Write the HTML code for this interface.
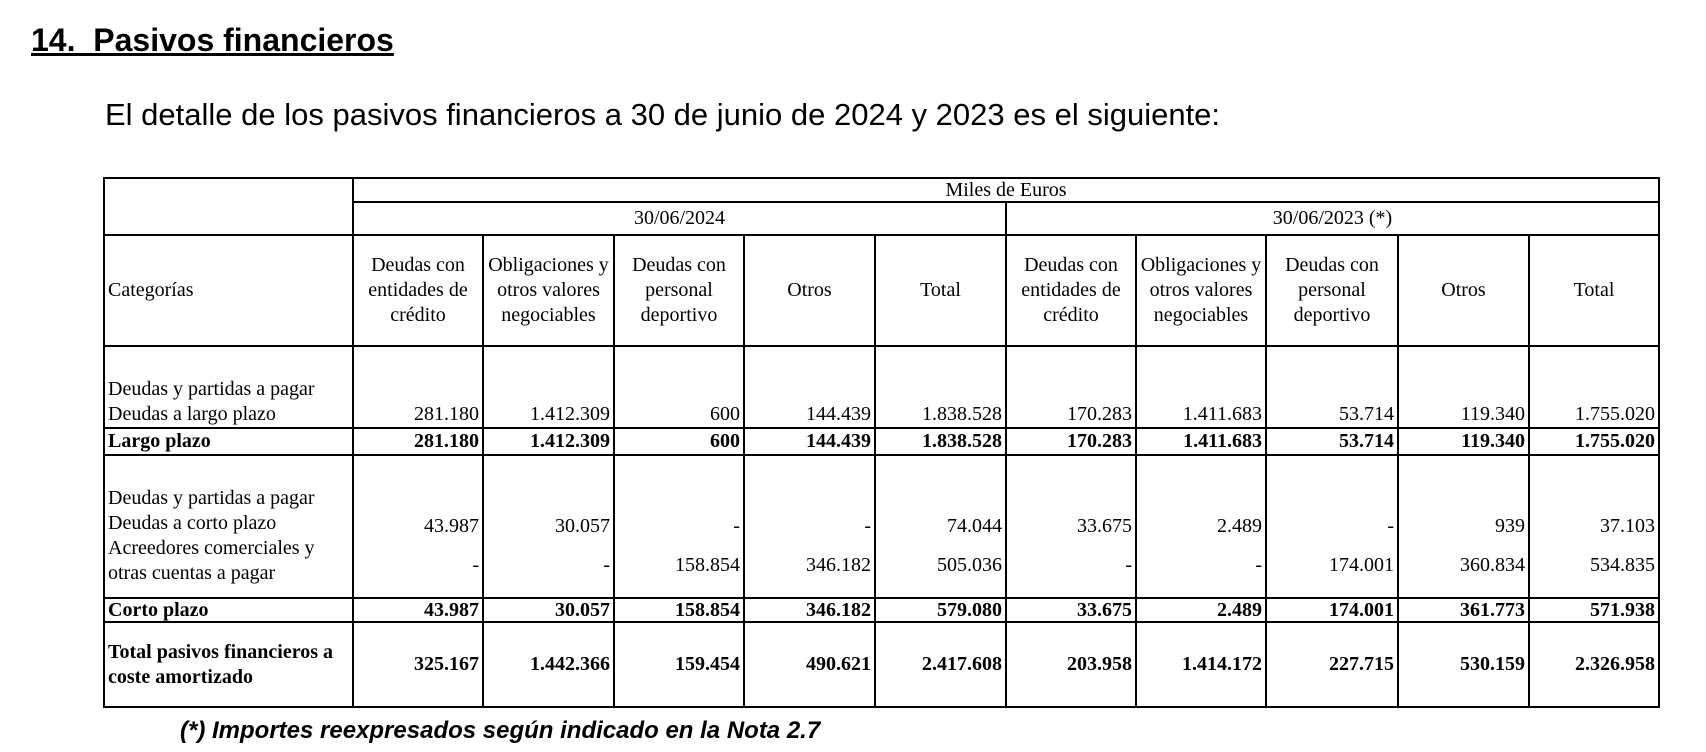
<!DOCTYPE html>
<html><head><meta charset="utf-8"><style>
body{margin:0;width:1706px;height:752px;background:#fff;position:relative;overflow:hidden;font-family:"Liberation Sans",sans-serif;color:#000}
.t{position:absolute;left:31px;top:21px;font-size:32px;line-height:38px;font-weight:bold;text-decoration:underline;white-space:pre}
.s{position:absolute;left:105px;top:96px;font-size:31px;line-height:37px}
.f{position:absolute;left:180px;top:716px;font-size:24px;line-height:29px;font-weight:bold;font-style:italic}
table{position:absolute;left:103px;top:177px;border-collapse:collapse;table-layout:fixed;font-family:"Liberation Serif",serif;font-size:20px}
td{border:2px solid #000;padding:0 3px;line-height:25px;white-space:nowrap;overflow:hidden}
.c{text-align:center}.r{text-align:right}.b{font-weight:bold}
.bot td{vertical-align:bottom;padding-bottom:0}
.top td{vertical-align:top}
.sl td{line-height:21px}
</style></head><body>
<div class="t">14.  Pasivos financieros</div>
<div class="s">El detalle de los pasivos financieros a 30 de junio de 2024 y 2023 es el siguiente:</div>
<table>
<colgroup><col style="width:249px"><col style="width:130px"><col style="width:131px"><col style="width:130px"><col style="width:131px"><col style="width:131px"><col style="width:130px"><col style="width:130px"><col style="width:132px"><col style="width:131px"><col style="width:130px"></colgroup>
<tr style="height:24px" class="sl"><td rowspan="2"></td><td colspan="10" class="c">Miles de Euros</td></tr>
<tr style="height:33px"><td colspan="5" class="c">30/06/2024</td><td colspan="5" class="c">30/06/2023 (*)</td></tr>
<tr style="height:111px"><td>Categorías</td>
<td class="c">Deudas con<br>entidades de<br>crédito</td><td class="c">Obligaciones y<br>otros valores<br>negociables</td><td class="c">Deudas con<br>personal<br>deportivo</td><td class="c">Otros</td><td class="c">Total</td>
<td class="c">Deudas con<br>entidades de<br>crédito</td><td class="c">Obligaciones y<br>otros valores<br>negociables</td><td class="c">Deudas con<br>personal<br>deportivo</td><td class="c">Otros</td><td class="c">Total</td></tr>
<tr style="height:82px" class="bot"><td>Deudas y partidas a pagar<br>Deudas a largo plazo</td>
<td class="r">281.180</td><td class="r">1.412.309</td><td class="r">600</td><td class="r">144.439</td><td class="r">1.838.528</td><td class="r">170.283</td><td class="r">1.411.683</td><td class="r">53.714</td><td class="r">119.340</td><td class="r">1.755.020</td></tr>
<tr style="height:27px" class="b sl"><td>Largo plazo</td>
<td class="r">281.180</td><td class="r">1.412.309</td><td class="r">600</td><td class="r">144.439</td><td class="r">1.838.528</td><td class="r">170.283</td><td class="r">1.411.683</td><td class="r">53.714</td><td class="r">119.340</td><td class="r">1.755.020</td></tr>
<tr style="height:143px" class="top"><td><div style="height:30px"></div>Deudas y partidas a pagar<br>Deudas a corto plazo<br>Acreedores comerciales y<br>otras cuentas a pagar</td>
<td class="r"><div style="height:58px"></div>43.987<div style="height:14px"></div>-</td>
<td class="r"><div style="height:58px"></div>30.057<div style="height:14px"></div>-</td>
<td class="r"><div style="height:58px"></div>-<div style="height:14px"></div>158.854</td>
<td class="r"><div style="height:58px"></div>-<div style="height:14px"></div>346.182</td>
<td class="r"><div style="height:58px"></div>74.044<div style="height:14px"></div>505.036</td>
<td class="r"><div style="height:58px"></div>33.675<div style="height:14px"></div>-</td>
<td class="r"><div style="height:58px"></div>2.489<div style="height:14px"></div>-</td>
<td class="r"><div style="height:58px"></div>-<div style="height:14px"></div>174.001</td>
<td class="r"><div style="height:58px"></div>939<div style="height:14px"></div>360.834</td>
<td class="r"><div style="height:58px"></div>37.103<div style="height:14px"></div>534.835</td></tr>
<tr style="height:24px" class="b sl"><td>Corto plazo</td>
<td class="r">43.987</td><td class="r">30.057</td><td class="r">158.854</td><td class="r">346.182</td><td class="r">579.080</td><td class="r">33.675</td><td class="r">2.489</td><td class="r">174.001</td><td class="r">361.773</td><td class="r">571.938</td></tr>
<tr style="height:85px" class="b"><td>Total pasivos financieros a<br>coste amortizado</td>
<td class="r">325.167</td><td class="r">1.442.366</td><td class="r">159.454</td><td class="r">490.621</td><td class="r">2.417.608</td><td class="r">203.958</td><td class="r">1.414.172</td><td class="r">227.715</td><td class="r">530.159</td><td class="r">2.326.958</td></tr>
</table>
<div class="f">(*) Importes reexpresados según indicado en la Nota 2.7</div>
</body></html>
